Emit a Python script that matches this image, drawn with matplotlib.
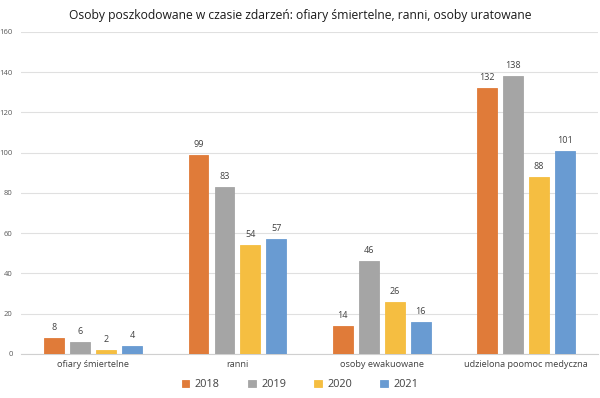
import matplotlib
matplotlib.use("Agg")
import matplotlib.pyplot as plt
import numpy as np

categories = ["ofiary śmiertelne", "ranni", "osoby ewakuowane", "udzielona poomoc medyczna"]
years = ["2018", "2019", "2020", "2021"]
v2018 = [8, 99, 14, 132]
v2019 = [6, 83, 46, 138]
v2020 = [2, 54, 26, 88]
v2021 = [4, 57, 16, 101]
series = [v2018, v2019, v2020, v2021]
colors = ["#E07B39", "#A5A5A5", "#F5BE41", "#699BD2"]
y_ticks = [0, 20, 40, 60, 80, 100, 120, 140, 160]

plt.rcParams['font.family'] = ['Open Sans', 'DejaVu Sans']

fig = plt.figure(figsize=(6, 3.98), dpi=100)
ax = fig.add_axes([0.035, 0.1106, 0.962, 0.8090])

x = np.arange(len(categories))
slot = 0.18
bw = 0.138
for i, (vals, c, yr) in enumerate(zip(series, colors, years)):
    pos = x + (i - 1.5) * slot
    bars = ax.bar(pos, vals, width=bw, color=c, edgecolor=c, linewidth=0.6, label=yr, zorder=3)
    for b, v in zip(bars, vals):
        ax.text(b.get_x() + b.get_width() / 2, v + 3, str(v), ha='center', va='bottom',
                fontsize=6.5, color='#404040')

ax.set_xlim(-0.5, len(categories) - 0.5)
ax.set_ylim(0, 160)
ax.set_yticks(y_ticks)
ax.set_yticklabels([str(t) for t in y_ticks], fontsize=5.5, color='#595959')
ax.set_xticks(x)
ax.set_xticklabels(categories, fontsize=6.6, color='#404040')
ax.tick_params(axis='both', length=0, pad=4)
ax.tick_params(axis='y', pad=6)
ax.grid(axis='y', color='#E0E0E0', linewidth=0.8, zorder=0)
for s in ['top', 'right', 'left']:
    ax.spines[s].set_visible(False)
ax.spines['bottom'].set_color('#D0D0D0')
ax.spines['bottom'].set_linewidth(0.8)

fig.suptitle("Osoby poszkodowane w czasie zdarzeń: ofiary śmiertelne, ranni, osoby uratowane",
             fontsize=8.7, y=0.978, x=0.5, color='#1a1a1a')

leg = fig.legend(loc='lower center', ncol=4, bbox_to_anchor=(0.5, -0.005), frameon=False,
                 fontsize=7.8, handlelength=0.7, handleheight=0.7, columnspacing=2.6,
                 handletextpad=0.5)
for t in leg.get_texts():
    t.set_color('#404040')

fig.savefig("out.png", dpi=100)
